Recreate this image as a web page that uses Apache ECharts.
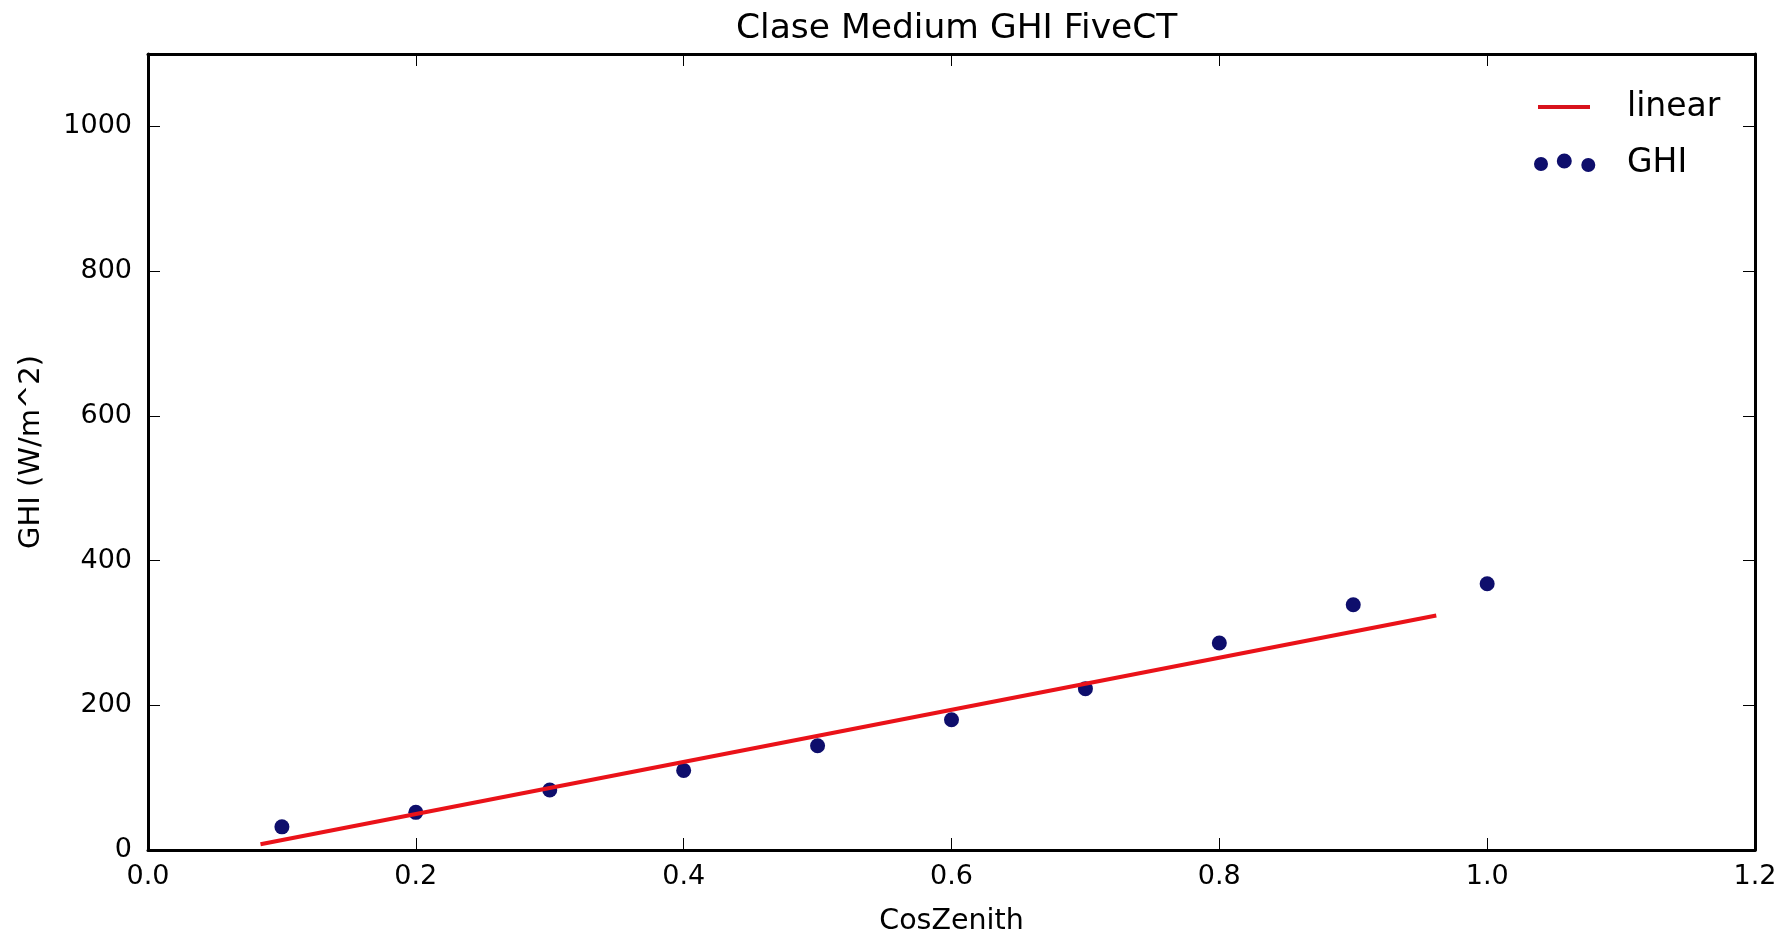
<!DOCTYPE html>
<html>
<head>
<meta charset="utf-8">
<script src="https://cdn.jsdelivr.net/npm/echarts@6/dist/echarts.min.js"></script>
<style>
html,body{margin:0;padding:0;background:#fff;}
#chart{width:1787px;height:941px;}
</style>
</head>
<body>
<div id="chart"></div>
<script>
// ---- data ----
const titleText = 'Clase Medium GHI FiveCT';
const xName = 'CosZenith';
const yName = 'GHI (W/m^2)';
const cosZenith = [0.1, 0.2, 0.3, 0.4, 0.5, 0.6, 0.7, 0.8, 0.9, 1.0];
const ghiValues = [32, 52, 83, 110, 144, 180, 223, 286, 339, 368];
const linearX = [0.084, 0.962];
const linearY = [8, 324];
const xTicks = { min: 0, max: 1.2, interval: 0.2 };
const yTicks = { min: 0, max: 1100, interval: 200 };

const FONT = 'DejaVu Sans';
const ghiData = cosZenith.map((x, i) => [x, ghiValues[i]]);
const linearData = linearX.map((x, i) => [x, linearY[i]]);

// legend icons: tiny corner anchors fix the icon box at 88x19 so shapes keep their place
const anchors = 'M0,0L0.1,0L0,0.1Z M88,19L87.9,19L88,18.9Z ';
const lineIcon = 'path://' + anchors + 'M4,7.5L56,7.5L56,11.5L4,11.5Z';
const dotsIcon = 'path://' + anchors +
  'M0,10.5a7,7 0 1,0 14,0a7,7 0 1,0 -14,0Z' +
  'M22.8,7.5a7.5,7.5 0 1,0 15,0a7.5,7.5 0 1,0 -15,0Z' +
  'M47.3,11.5a7,7 0 1,0 14,0a7,7 0 1,0 -14,0Z';

const tickStyle = { show: true, inside: true, length: 12, lineStyle: { color: '#000', width: 1 } };
const frameLine = { show: true, onZero: false, lineStyle: { color: '#000', width: 3 } };

const chart = echarts.init(document.getElementById('chart'), null, { renderer: 'canvas' });
chart.setOption({
  backgroundColor: '#fff',
  animation: false,
  title: {
    text: titleText, left: 731, top: 7,
    textStyle: { fontFamily: FONT, fontSize: 34.5, fontWeight: 'normal', color: '#000' }
  },
  grid: { left: 148, right: 32, top: 54, bottom: 82, containLabel: false },
  legend: {
    orient: 'vertical', left: 1534, top: 89, padding: 0,
    itemWidth: 88, itemHeight: 19, itemGap: 20,
    textStyle: { fontFamily: FONT, fontSize: 33, color: '#000', lineHeight: 36 },
    data: [
      { name: 'linear', icon: lineIcon },
      { name: 'GHI', icon: dotsIcon }
    ]
  },
  xAxis: [
    {
      type: 'value', position: 'bottom', min: xTicks.min, max: xTicks.max, interval: xTicks.interval,
      name: xName, nameLocation: 'middle', nameGap: 57,
      nameTextStyle: { fontFamily: FONT, fontSize: 28.5, color: '#000' },
      axisLine: frameLine, axisTick: tickStyle, splitLine: { show: false },
      axisLabel: { fontFamily: FONT, fontSize: 27, color: '#000', margin: 13,
        formatter: v => v.toFixed(1) }
    },
    {
      type: 'value', position: 'top', min: xTicks.min, max: xTicks.max, interval: xTicks.interval,
      axisLine: frameLine, axisTick: tickStyle, splitLine: { show: false },
      axisLabel: { show: false }
    }
  ],
  yAxis: [
    {
      type: 'value', position: 'left', min: yTicks.min, max: yTicks.max, interval: yTicks.interval,
      name: yName, nameLocation: 'middle', nameGap: 102, nameRotate: 90,
      nameTextStyle: { fontFamily: FONT, fontSize: 29, color: '#000' },
      axisLine: frameLine, axisTick: tickStyle, splitLine: { show: false },
      axisLabel: { fontFamily: FONT, fontSize: 27, color: '#000', margin: 16,
        formatter: v => (v % 200 === 0 ? String(v) : '') }
    },
    {
      type: 'value', position: 'right', min: yTicks.min, max: yTicks.max, interval: yTicks.interval,
      axisLine: frameLine, axisTick: tickStyle, splitLine: { show: false },
      axisLabel: { show: false }
    }
  ],
  series: [
    {
      name: 'linear', type: 'line', xAxisIndex: 0, yAxisIndex: 0,
      data: linearData, symbol: 'none', showSymbol: false,
      lineStyle: { color: '#ea1219', width: 4 },
      itemStyle: { color: '#d8121c' }, z: 3
    },
    {
      name: 'GHI', type: 'scatter', xAxisIndex: 0, yAxisIndex: 0,
      data: ghiData, symbol: 'circle', symbolSize: 15,
      itemStyle: { color: '#0e0e6c', opacity: 1 }, z: 2
    }
  ]
});
</script>
</body>
</html>
